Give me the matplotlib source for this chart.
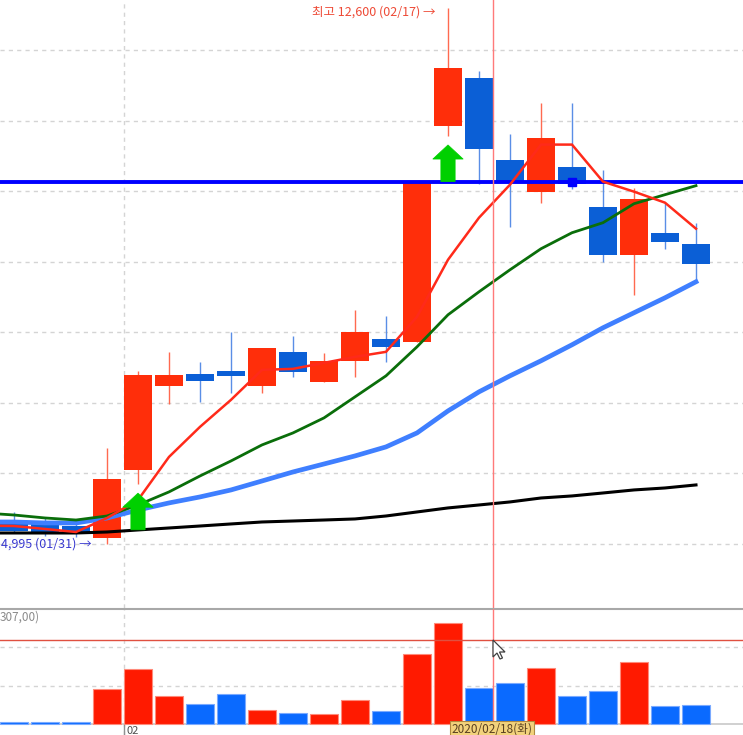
import matplotlib
matplotlib.use("Agg")
import matplotlib.pyplot as plt
import numpy as np
from matplotlib.patches import Polygon

plt.rcParams['font.family'] = ['Noto Sans CJK KR', 'DejaVu Sans']

# ---------------- data ----------------
dates = ["01/23", "01/28", "01/29", "01/30", "01/31", "02/03", "02/04", "02/05",
         "02/06", "02/07", "02/10", "02/11", "02/12", "02/13", "02/14", "02/17",
         "02/18", "02/19", "02/20", "02/21", "02/24", "02/25", "02/26", "02/27"]
opens  = [5420, 5330, 5300, 5250, 5085, 6049, 7240, 7411, 7453, 7240, 7723, 7297,
          7595, 7907, 7864, 10927, 11608, 10445, 9991, 10346, 9779, 9098, 9410, 9254]
highs  = [5500, 5450, 5380, 5320, 6361, 7453, 7723, 7581, 8006, 7779, 7949, 7708,
          8318, 8233, 10130, 12600, 11707, 10814, 11253, 11253, 10304, 10048, 9835, 9552]
lows   = [5250, 5150, 5120, 5100, 4995, 5851, 6985, 7014, 7141, 7141, 7368, 7297,
          7368, 7581, 7864, 10785, 10105, 9495, 9835, 10034, 8999, 8531, 9183, 8744]
closes = [5300, 5180, 5170, 5160, 5922, 7396, 7396, 7311, 7382, 7779, 7439, 7595,
          8006, 7793, 10130, 11750, 10601, 10119, 10757, 10105, 9098, 9892, 9282, 8970]
volume = [0.06, 0.06, 0.06, 0.06, 0.91, 1.43, 0.73, 0.52, 0.78, 0.36, 0.29, 0.26,
          0.62, 0.34, 1.82, 2.62, 0.94, 1.06, 1.45, 0.73, 0.86, 1.61, 0.47, 0.49]
ma5   = [5260, 5255, 5213, 5170, 5368, 5624, 6234, 6660, 7043, 7468, 7482, 7567,
         7652, 7723, 8220, 9028, 9624, 10092, 10660, 10660, 10135, 9993, 9837, 9468]
ma20  = [5440, 5411, 5369, 5340, 5397, 5553, 5738, 5964, 6177, 6404, 6574, 6787,
         7085, 7383, 7794, 8248, 8574, 8886, 9184, 9411, 9553, 9822, 9950, 10078]
ma60  = [5312, 5312, 5298, 5298, 5368, 5482, 5582, 5667, 5766, 5893, 6021, 6134,
         6248, 6376, 6574, 6886, 7156, 7383, 7596, 7823, 8064, 8277, 8489, 8716]
ma120 = [5156, 5156, 5156, 5156, 5170, 5199, 5227, 5255, 5284, 5312, 5326, 5340,
         5355, 5397, 5454, 5511, 5553, 5596, 5652, 5681, 5723, 5766, 5794, 5837]
resistance = 10130
cross_idx = 19
signal_idx = [5, 15]
price_grid = [5000, 6000, 7000, 8000, 9000, 10000, 11000, 12000]
vol_grid = [1, 2]
month_break = 4.55
cursor_x = 16.45
cursor_vol = 2.18
high_label = "최고 12,600 (02/17) →"
low_label = "4,995 (01/31) →"
crosshair_date = "2020/02/18(화)"

# ---------------- figure ----------------
fig = plt.figure(figsize=(7.43, 7.35), dpi=100)
ax = fig.add_axes([0, 127 / 735, 1, 608 / 735])
axv = fig.add_axes([0, 0, 1, 126 / 735])

pos = np.arange(len(dates))
o = np.array(opens); c = np.array(closes); h = np.array(highs); l = np.array(lows)
up = c >= o

RED = '#ff2e0a'
BLUE = '#0b5fd6'
RED_W = '#ff6a50'
BLUE_W = '#5a8ee6'
VRED = '#ff1a00'
VBLUE = '#0a6aff'

for a in (ax, axv):
    a.set_xlim(17 / 31, 760 / 31)
    for s in a.spines.values():
        s.set_visible(False)
    a.set_xticks([]); a.set_yticks([])
ax.set_ylim(4093, 12709)
axv.set_ylim(-0.2857, 2.987)
axv.spines['top'].set_visible(True)
axv.spines['top'].set_color('#a8a8a8')
axv.spines['top'].set_linewidth(1.5)

grid_kw = dict(color='#d4d4d4', lw=1, ls=(0, (3, 3)), zorder=0)
for g in price_grid:
    ax.axhline(g, **grid_kw)
for g in vol_grid:
    axv.axhline(g, **grid_kw)
ax.axvline(month_break, **grid_kw)
axv.axvline(month_break, **grid_kw)
axv.axhline(0, color='#c8c8c8', lw=1.2, zorder=1)
axv.vlines(month_break, -0.2857, 0, color='#909090', lw=1, zorder=1)

# candles
ax.vlines(pos, l, h, colors=np.where(up, RED_W, BLUE_W), lw=1, zorder=2)
ax.bar(pos, np.abs(c - o), bottom=np.minimum(o, c), width=0.88,
       color=np.where(up, RED, BLUE), zorder=3)

# resistance line
ax.axhline(resistance, color='#0000ff', lw=2.8, zorder=4)

# moving averages
ax.plot(pos, ma120, color='#000000', lw=2.2, zorder=5)
ax.plot(pos, ma60, color='#3f7fff', lw=3.4, zorder=5)
ax.plot(pos, ma20, color='#0a6e0a', lw=2.0, zorder=5)
ax.plot(pos, ma5, color='#ff2a1a', lw=1.8, zorder=6)
ax.plot(pos[cross_idx], resistance, marker='s', ms=6, color='#0000ff', zorder=7)

# buy-signal arrows
for i in signal_idx:
    tip = lows[i] - 130
    base = tip - 520
    neck = tip - 200
    sw, hw = 0.23, 0.49
    pts = [(i - sw, base), (i + sw, base), (i + sw, neck), (i + hw, neck),
           (i, tip), (i - hw, neck), (i - sw, neck)]
    ax.add_patch(Polygon(pts, closed=True, fc='#00d000', ec='#00d000', lw=0.5, zorder=8))

# labels
ax.text(15 - 0.4, 12600 - 60, high_label, ha='right', va='center',
        fontsize=9, color='#ee4a36', zorder=9)
ax.text(4 - 0.5, 4995, low_label, ha='right', va='center',
        fontsize=9, color='#3a3ad0', zorder=9)

# volume
vcol = np.where(up, VRED, VBLUE)
axv.bar(pos, volume, width=0.88, color=vcol, edgecolor=np.where(up, '#ff8a7a', '#7aaaff'),
        lw=0.8, zorder=3)

# crosshair
ax.axvline(cursor_x, color='#ff7a7a', lw=1, zorder=10)
axv.axvline(cursor_x, color='#ff7a7a', lw=1, zorder=10)
axv.axhline(cursor_vol, color='#e05040', lw=1, zorder=10)

# texts in the panel margins
fig.text(0, 1 - 617 / 735, "307,00)", ha='left', va='center', fontsize=8.5, color='#8a8a8a')
fig.text(126 / 743, 1 - 731 / 735, "02", ha='left', va='center', fontsize=8, color='#505050')
fig.text(492 / 743, 1 - 729.5 / 735, crosshair_date, ha='center', va='center', fontsize=8.5,
         color='#5a4020',
         bbox=dict(boxstyle='square,pad=0.15', fc='#f2d27c', ec='#b08a40', lw=0.8))

# mouse pointer
px, py = 493, 640
cur = [(0, 0), (0, 17), (4, 13), (7, 19), (9.5, 18), (6.5, 12), (12, 12)]
cur = [((px + dx) / 743, 1 - (py + dy) / 735) for dx, dy in cur]
fig.add_artist(Polygon(cur, closed=True, fc='white', ec='#404040', lw=0.9,
                       transform=fig.transFigure, zorder=20))

fig.savefig("out.png", dpi=100)
